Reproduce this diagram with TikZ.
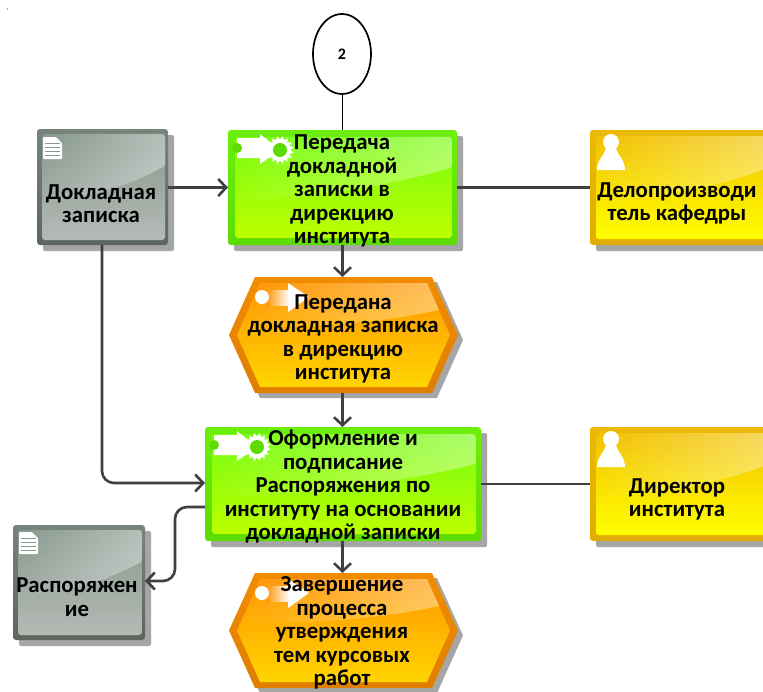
\documentclass[tikz,border=0pt]{standalone}
\usepackage{fontspec}
\setmainfont{Carlito}
\usetikzlibrary{shapes.geometric,arrows.meta,fadings}
\definecolor{shadowc}{HTML}{A6A6A6}
\definecolor{linec}{HTML}{404040}
\tikzset{
  anchorbox/.style={rectangle,inner sep=0pt,outer sep=0pt},
  lab/.style={align=center,inner sep=0pt,font=\fontsize{22.8}{23.5}\selectfont\bfseries,text=black},
  conn/.style={draw=linec,line width=2.6pt,rounded corners=12pt},
  arrowed/.style={conn,-{Straight Barb[length=8pt,width=17pt,line width=2.6pt]}},
}
% name, x1, y1, x2, y2, outer, top, bottom, inset
\newcommand{\cardbox}[9]{%
  \pgfmathsetmacro{\cbw}{#4-#2}\pgfmathsetmacro{\cbh}{#5-#3}%
  \pgfmathsetmacro{\cbx}{(#2+#4)/2}\pgfmathsetmacro{\cby}{(#3+#5)/2}%
  \pgfmathsetmacro{\sa}{#2+6}\pgfmathsetmacro{\sb}{#3+6}\pgfmathsetmacro{\sc}{#4+6}\pgfmathsetmacro{\sd}{#5+6}%
  \pgfmathsetmacro{\ia}{#2+#9}\pgfmathsetmacro{\ib}{#3+#9}\pgfmathsetmacro{\ic}{#4-#9+2}\pgfmathsetmacro{\id}{#5-#9}%
  \pgfmathsetmacro{\ga}{\ib+0.30*(\id-\ib)}\pgfmathsetmacro{\gb}{\ib+0.62*(\id-\ib)}\pgfmathsetmacro{\gm}{(\ia+\ic)/2}%
  \fill[shadowc,rounded corners=2pt] (\sa,\sb) rectangle (\sc,\sd);
  \node[anchorbox,minimum width=\cbw pt,minimum height=\cbh pt,top color=#7!60!#6,bottom color=#6,rounded corners=3pt] (#1) at (\cbx,\cby) {};
  \shade[top color=#7,bottom color=#8,rounded corners=3pt] (\ia,\ib) rectangle (\ic,\id);
  \fill[white,path fading=west,fill opacity=.38,rounded corners=3pt] (\ia,\ib) -- (\ic,\ib) -- (\ic,\ga) .. controls (\gm,\gb) and (\ia+10,\gb) .. (\ia,\gb) -- cycle;
}
% name, x1, y1, x2, y2, outer, top, bottom
\newcommand{\hexbox}[8]{%
  \pgfmathsetmacro{\cbw}{#4-#2}\pgfmathsetmacro{\cbh}{#5-#3}%
  \pgfmathsetmacro{\cbx}{(#2+#4)/2}\pgfmathsetmacro{\cby}{(#3+#5)/2}%
  \node[anchorbox,minimum width=\cbw pt,minimum height=\cbh pt] (#1) at (\cbx,\cby) {};
  \fill[shadowc] (#2+5,\cby+5) -- (#2+31,#3+5) -- (#4-21,#3+5) -- (#4+5,\cby+5) -- (#4-21,#5+5) -- (#2+31,#5+5) -- cycle;
  \shade[top color=#7!60!#6,bottom color=#6] (#2,\cby) -- (#2+26,#3) -- (#4-26,#3) -- (#4,\cby) -- (#4-26,#5) -- (#2+26,#5) -- cycle;
  \shade[top color=#7,bottom color=#8] (#2+8,\cby) -- (#2+31,#3+6) -- (#4-31,#3+6) -- (#4-8,\cby) -- (#4-31,#5-6) -- (#2+31,#5-6) -- cycle;
  \fill[white,path fading=west,fill opacity=.38] (#2+31,#3+6) -- (#4-31,#3+6) -- (#4-19,#3+33) .. controls (#2+140,#3+48) and (#2+80,#3+50) .. (#2+13,#3+50) -- cycle;
}
\newcommand{\docfile}[3]{%
  \fill[white,rounded corners=1pt] (#1,#2) -- (#1+13,#2) -- (#1+19,#2+6) -- (#1+19,#2+22) -- (#1,#2+22) -- cycle;
  \foreach \dy in {6,10,14,18}{\draw[#3,line width=.7pt] (#1+2,#2+\dy) -- (#1+17,#2+\dy);}
}
\newcommand{\personicon}[2]{%
  \fill[white] (#1,#2) circle (8);
  \fill[white] (#1-14,#2+28) .. controls (#1-14,#2+18) and (#1-7,#2+14) .. (#1-5,#2+6) -- (#1+5,#2+6) .. controls (#1+7,#2+14) and (#1+14,#2+18) .. (#1+14,#2+28) -- cycle;
}
% arrow tail x, gear centre x, y, colour
\newcommand{\funcicon}[4]{%
  \fill[white] (#1,#3-12) -- (#1+23,#3-12) -- (#1+23,#3-16) -- (#2,#3) -- (#1+23,#3+14) -- (#1+23,#3+8) -- (#1,#3+8) -- cycle;
  \fill[#4] (#1,#3-2) circle (5);
  \fill[white] plot[samples=33,domain=0:32] ({#2+(10.5+3.5*mod(round(\x),2))*cos(\x*11.25)},{#3+(10.5+3.5*mod(round(\x),2))*sin(\x*11.25)});
  \fill[#4] (#2,#3) circle (7);
}
\newcommand{\evticon}[2]{%
  \shade[left color=otop,right color=white] (#1+4,#2-7) rectangle (#1+27,#2+8);
  \fill[white] (#1+26,#2-14) -- (#1+47,#2) -- (#1+26,#2+15) -- cycle;
  \fill[white] (#1,#2) circle (7);
}
\begin{document}
\begin{tikzpicture}[x=1pt,y=-1pt]
\useasboundingbox (0,0) rectangle (763,691);
\clip (0,0) rectangle (763,691);
\fill[white] (0,0) rectangle (763,691);
\definecolor{gout}{HTML}{5C665F}\definecolor{gtop}{HTML}{87988E}\definecolor{gbot}{HTML}{B6BAB6}
\definecolor{lout}{HTML}{5CDC00}\definecolor{ltop}{HTML}{76FC10}\definecolor{lbot}{HTML}{BCFF00}
\definecolor{yout}{HTML}{E0AE00}\definecolor{ytop}{HTML}{F2C000}\definecolor{ybot}{HTML}{FFFF00}
\definecolor{oout}{HTML}{E07E00}\definecolor{otop}{HTML}{FF9500}\definecolor{obot}{HTML}{FFD500}

\fill[black!70] (7.5,9) circle (.7);

\cardbox{doc1}{37}{129}{168}{245}{gout}{gtop}{gbot}{5}
\cardbox{fn1}{228}{130}{457}{245}{lout}{ltop}{lbot}{7}
\cardbox{org1}{590}{130}{775}{245}{yout}{ytop}{ybot}{6}
\hexbox{ev1}{229}{277}{458}{393}{oout}{otop}{obot}
\cardbox{fn2}{205}{427}{481}{541}{lout}{ltop}{lbot}{7}
\cardbox{org2}{590}{427}{775}{541}{yout}{ytop}{ybot}{6}
\cardbox{doc2}{13}{525}{145}{640}{gout}{gtop}{gbot}{5}
\hexbox{ev2}{229}{573}{458}{688}{oout}{otop}{obot}
\node[ellipse,draw=black,line width=1.7pt,fill=white,minimum width=58pt,minimum height=80pt,inner sep=0pt,font=\fontsize{16}{18}\selectfont\bfseries] (conn2) at (342,54) {2};

\docfile{43}{137}{gtop}
\docfile{19}{532}{gtop}
\personicon{611}{142}
\personicon{611}{439}
\funcicon{237}{280}{150}{lout}
\funcicon{214}{257}{447}{lout}
\evticon{262}{297}
\evticon{262}{593}

% connectors
\draw[black,line width=.8pt] (conn2.south) -- (conn2.south |- fn1.north);
\draw[arrowed] (doc1.east |- fn1.west) -- (fn1.west);
\draw[conn] (fn1.east) -- (org1.west);
\draw[arrowed] (fn1.south) -- (fn1.south |- ev1.north);
\draw[arrowed] (fn1.south |- ev1.south) -- (fn1.south |- fn2.north);
\draw[arrowed] (fn1.south |- fn2.south) -- (fn1.south |- ev2.north);
\draw[conn] (fn2.east) -- (org2.west |- fn2.east);
\coordinate (d1a) at (102,245);
\coordinate (d1b) at (205,483);
\draw[arrowed] (d1a) -- (d1a |- d1b) -- (d1b);
\coordinate (f2a) at (205,507);
\coordinate (f2b) at (175,507);
\coordinate (f2c) at (175,581);
\coordinate (f2d) at (145,581);
\draw[arrowed] (f2a) -- (f2b) -- (f2c) -- (f2d);

% labels
\node[lab] (doc1t) at (101,203.5) {Докладная\\записка};
\node[lab] (fn1t) at (342,191) {Передача\\докладной\\записки в\\дирекцию\\института};
\node[lab] (org1t) at (677,203.5) {Делопроизводи\\тель кафедры};
\node[lab] (ev1t) at (343,339) {Передана\\докладная записка\\в дирекцию\\института};
\node[lab] (fn2t) at (343,487) {Оформление и\\подписание\\Распоряжения по\\институту на основании\\докладной записки};
\node[lab] (org2t) at (677,499.5) {Директор\\института};
\node[lab] (doc2t) at (77,597) {Распоряжен\\ие};
\node[lab] (ev2t) at (342,633) {Завершение\\процесса\\утверждения\\тем курсовых\\работ};
\end{tikzpicture}
\end{document}
